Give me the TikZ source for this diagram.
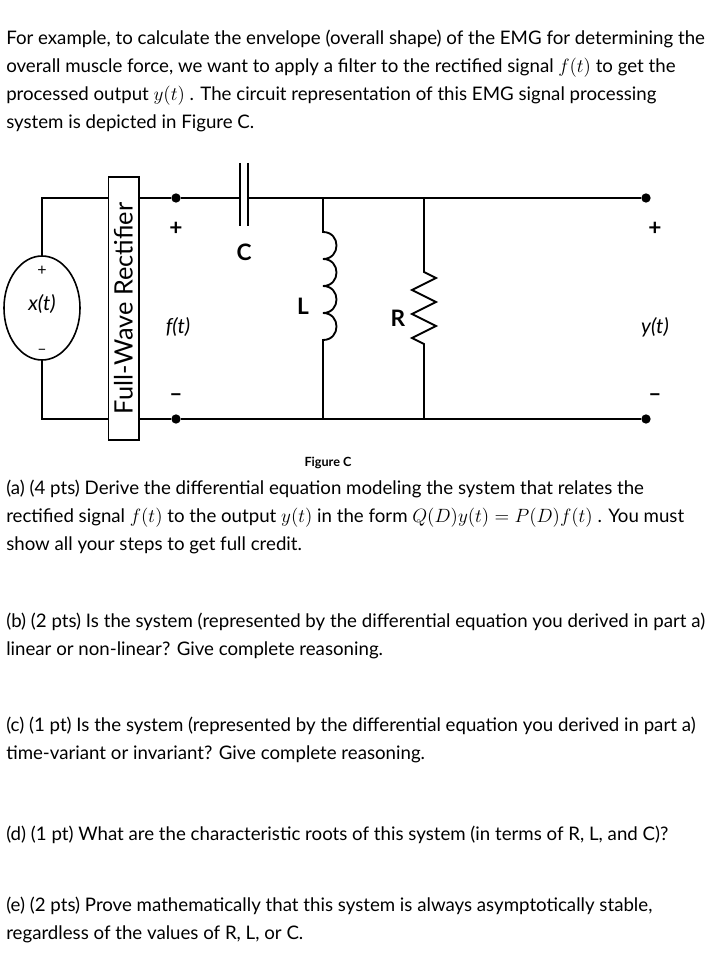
\documentclass[tikz,border=0pt]{standalone}
\usepackage{fontspec}
\setmainfont{Lato}
\usepackage{amsmath}
\usetikzlibrary{positioning,shapes.geometric}
\tikzset{
  para/.style={anchor=base west, align=left, inner sep=0pt, font=\fontsize{14}{21}\selectfont},
  wire/.style={line width=1.4pt},
  term/.style={circle, fill, inner sep=0pt, minimum size=7pt},
  lab/.style={font=\fontsize{15.5}{17}\selectfont},
  sgn/.style={font=\fontsize{17}{17}\selectfont\bfseries}
}
\begin{document}
\begin{tikzpicture}[x=0.75pt, y=-0.75pt]
	\useasboundingbox (0,0) rectangle (715,969);
	%\draw[help lines] (0,0) grid[step=50] (715,969);
	% text above the circuit
	\node[para] (intro) at (6,129) {For example, to calculate the envelope (overall shape) of the EMG for determining the\\
	overall muscle force, we want to apply a filter to the rectified signal \(f(t)\) to get the\\
	processed output \(y(t)\) . The circuit representation of this EMG signal processing\\
	system is depicted in Figure C.};
	% source and rectifier
	\node[draw, ellipse, minimum width=57pt, minimum height=78pt, inner sep=0pt, line width=1.2pt] (src) at (42,308) {};
	\node[lab] at (42,304) {\itshape x(t)};
	\node[font=\large] at (42,271) {+};
	\node[font=\large] at (42,352) {--};
	\node[draw, line width=1pt, minimum width=23pt, minimum height=197pt, inner sep=0pt] (rect) at (123.5,308.5) {};
	\node[rotate=90, font=\fontsize{19}{20}\selectfont] at (rect.center) {Full-Wave Rectifier};
	\coordinate (tl) at (42,198);
	\coordinate (bl) at (42,419);
	\draw[wire] (src.north) -- (tl) -- (rect.west |- tl);
	\draw[wire] (src.south) -- (bl) -- (rect.west |- bl);
	% terminals
	\node[term] (fp) at (176,198) {};
	\node[term] (fm) at (176,419) {};
	\node[term] (yp) at (646,198) {};
	\node[term] (ym) at (646,419) {};
	\draw[wire] (rect.east |- fp) -- (fp);
	\draw[wire] (rect.east |- fm) -- (fm) -- (ym);
	% capacitor
	\coordinate (c1) at (240,198);
	\coordinate (c2) at (248,198);
	\draw[wire] (fp) -- (c1);
	\draw[wire] (c2) -- (yp);
	\draw[line width=1.8pt] (240,163) -- (240,226);
	\draw[line width=1.8pt] (248,163) -- (248,226);
	\node[sgn] at (244,252) {C};
	% inductor
	\draw[wire] (323,198) -- (323,232)
	  .. controls (341,232) and (341,259) .. (323,259)
	  .. controls (341,259) and (341,286) .. (323,286)
	  .. controls (341,286) and (341,313) .. (323,313)
	  .. controls (341,313) and (341,340) .. (323,340) -- (323,419);
	\node[sgn] at (303,306) {L};
	% resistor
	\draw[wire] (424,198) -- (424,272) -- (436,278) -- (412,290) -- (436,302) -- (412,314)
	  -- (436,326) -- (412,338) -- (424,344) -- (424,419);
	\node[sgn] at (398,318) {R};
	% terminal labels
	\node[sgn] at (176,229) {+};
	\node[sgn] at (176,398) {--};
	\node[lab] at (178,327) {\itshape f(t)};
	\node[sgn] at (655,229) {+};
	\node[sgn] at (655,398) {--};
	\node[lab] at (655,327) {\itshape y(t)};
	\node[font=\fontsize{9.5}{11}\selectfont\bfseries] (cap) at (328,463) {Figure C};
	% questions
	\node[para] (qa) at (6,550) {(a) (4 pts) Derive the differential equation modeling the system that relates the\\
	rectified signal \(f(t)\) to the output \(y(t)\) in the form \(Q(D)y(t)=P(D)f(t)\) . You must\\
	show all your steps to get full credit.};
	\node[para] (qb) at (6,655) {(b) (2 pts) Is the system (represented by the differential equation you derived in part a)\\
	linear or non-linear? Give complete reasoning.};
	\node[para] (qc) at (6,759) {(c) (1 pt) Is the system (represented by the differential equation you derived in part a)\\
	time-variant or invariant? Give complete reasoning.};
	\node[para] (qd) at (6,840) {(d) (1 pt) What are the characteristic roots of this system (in terms of R, L, and C)?};
	\node[para] (qe) at (6,939) {(e) (2 pts) Prove mathematically that this system is always asymptotically stable,\\
	regardless of the values of R, L, or C.};
\end{tikzpicture}
\end{document}
